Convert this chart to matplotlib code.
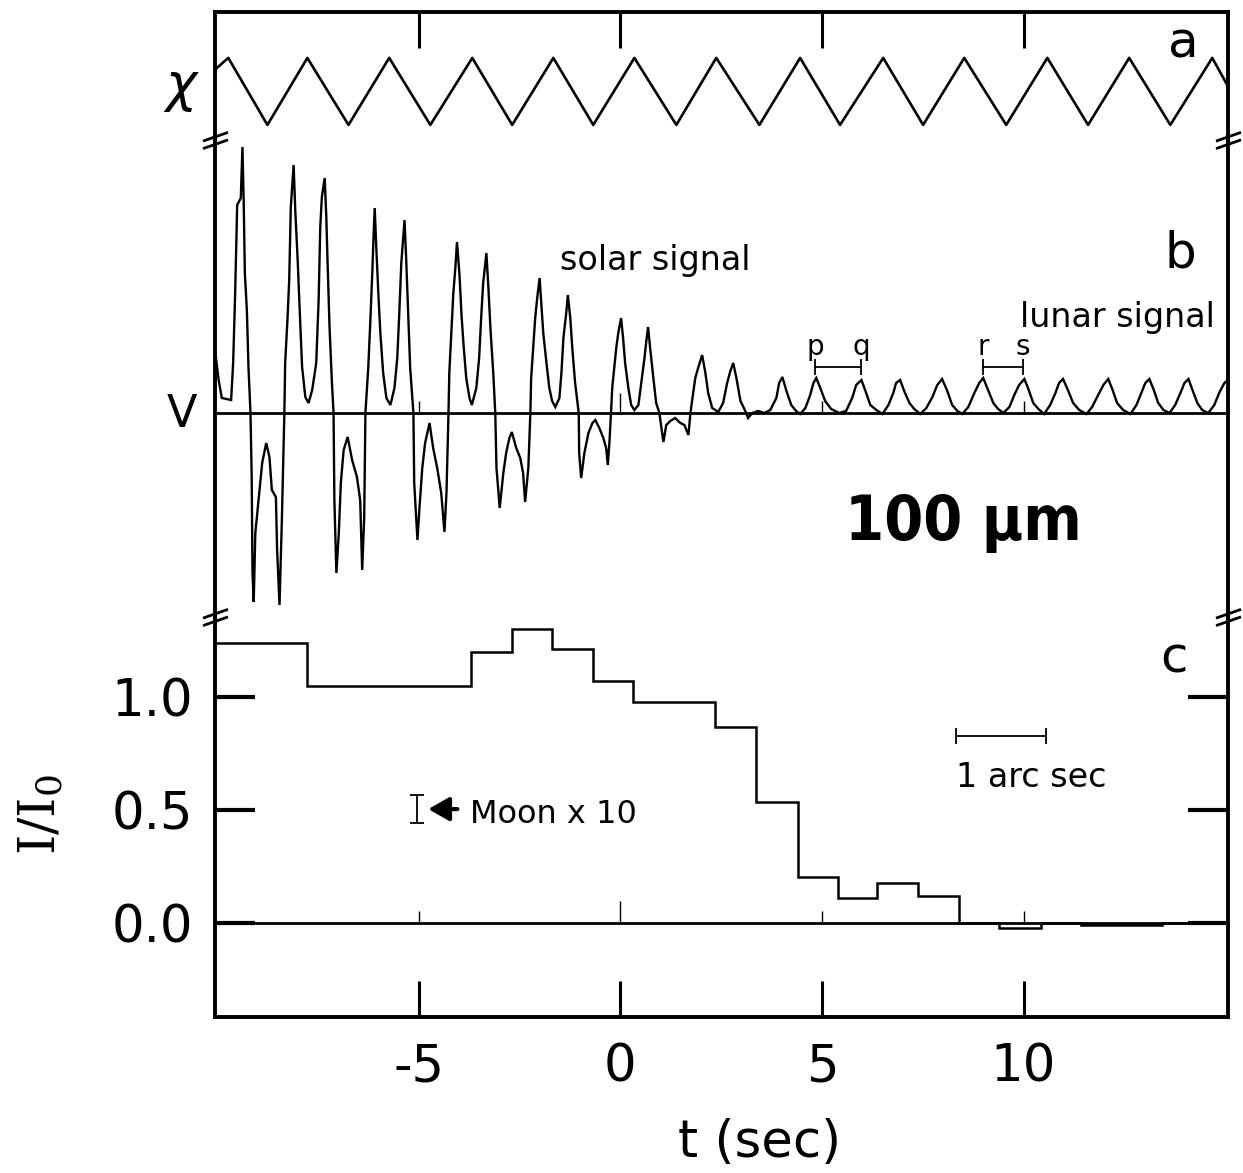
import matplotlib.pyplot as plt
from matplotlib.path import Path

# ---------------- data ----------------
t_ticks = [-5, 0, 5, 10]
t_labels = ['-5', '0', '5', '10']

# (a) chopper angle chi: triangle-wave vertices (t, chi)
chi_t = [-10.05, -9.72, -8.75, -7.76, -6.74, -5.73, -4.71, -3.67, -2.68, -1.66,
         -0.67, 0.35, 1.39, 2.38, 3.45, 4.46, 5.45, 6.52, 7.51, 8.53, 9.57,
         10.59, 11.60, 12.62, 13.64, 14.68, 15.07]
chi_v = [0.65, 1, -1, 1, -1, 1, -1, 1, -1, 1, -1, 1, -1, 1, -1, 1, -1, 1, -1,
         1, -1, 1, -1, 1, -1, 1, 0.15]

# (b) detector signal V (solar part, then lunar part)
solar_sig = [
    (-10.05, 0.63), (-9.96, 0.33), (-9.88, 0.15), (-9.65, 0.13), (-9.60, 0.50),
    (-9.55, 1.20), (-9.50, 2.08), (-9.41, 2.15), (-9.37, 2.66), (-9.34, 2.15),
    (-9.31, 1.40), (-9.26, 1.03), (-9.22, 0.46), (-9.17, 0.0), (-9.14, -0.64),
    (-9.12, -1.60), (-9.09, -1.89), (-9.05, -1.20), (-8.97, -0.87), (-8.88, -0.50),
    (-8.78, -0.30), (-8.70, -0.44), (-8.64, -0.77), (-8.54, -0.84), (-8.51, -1.37),
    (-8.45, -1.92), (-8.39, -1.04), (-8.33, 0.0),
    (-8.31, 0.50), (-8.25, 0.96), (-8.21, 1.33), (-8.17, 2.06), (-8.10, 2.48),
    (-8.06, 2.03), (-8.00, 1.53), (-7.95, 1.03), (-7.89, 0.46), (-7.81, 0.16),
    (-7.73, 0.10), (-7.64, 0.23), (-7.54, 0.50), (-7.48, 1.13), (-7.44, 1.86),
    (-7.40, 2.16), (-7.33, 2.35), (-7.29, 1.96), (-7.26, 1.53), (-7.21, 0.86),
    (-7.15, 0.30), (-7.11, 0.0), (-7.09, -0.87), (-7.04, -1.60), (-6.98, -1.20),
    (-6.93, -0.70), (-6.86, -0.37), (-6.76, -0.24), (-6.65, -0.47), (-6.53, -0.64),
    (-6.45, -0.87), (-6.40, -1.57), (-6.35, -1.04), (-6.32, 0.0),
    (-6.25, 0.45), (-6.20, 0.90), (-6.15, 1.40), (-6.12, 1.75), (-6.09, 2.05),
    (-6.05, 1.65), (-6.00, 1.20), (-5.95, 0.80), (-5.88, 0.40), (-5.80, 0.15),
    (-5.70, 0.08), (-5.60, 0.25), (-5.53, 0.55), (-5.48, 1.00), (-5.43, 1.50),
    (-5.35, 1.93), (-5.31, 1.55), (-5.26, 1.00), (-5.21, 0.45), (-5.13, 0.0),
    (-5.11, -0.70), (-5.03, -1.27), (-4.98, -0.95), (-4.91, -0.55), (-4.84, -0.30),
    (-4.73, -0.10), (-4.64, -0.35), (-4.54, -0.55), (-4.44, -0.80), (-4.36, -1.19),
    (-4.31, -0.80), (-4.26, 0.0),
    (-4.24, 0.40), (-4.19, 0.80), (-4.14, 1.20), (-4.09, 1.45), (-4.05, 1.71),
    (-3.99, 1.40), (-3.94, 1.00), (-3.89, 0.70), (-3.82, 0.35), (-3.74, 0.15),
    (-3.68, 0.08), (-3.57, 0.25), (-3.50, 0.55), (-3.45, 0.95), (-3.40, 1.30),
    (-3.32, 1.60), (-3.27, 1.25), (-3.22, 0.85), (-3.15, 0.40), (-3.10, 0.0),
    (-3.07, -0.55), (-2.99, -0.95), (-2.90, -0.60), (-2.83, -0.40), (-2.75, -0.25),
    (-2.69, -0.19), (-2.58, -0.35), (-2.48, -0.45), (-2.41, -0.60), (-2.36, -0.89),
    (-2.28, -0.55), (-2.23, 0.0),
    (-2.21, 0.35), (-2.16, 0.65), (-2.11, 0.95), (-2.06, 1.15), (-2.00, 1.35),
    (-1.96, 1.10), (-1.91, 0.80), (-1.83, 0.50), (-1.76, 0.25), (-1.69, 0.12),
    (-1.61, 0.06), (-1.51, 0.15), (-1.46, 0.40), (-1.41, 0.75), (-1.34, 1.00),
    (-1.30, 1.18), (-1.24, 0.95), (-1.19, 0.65), (-1.12, 0.30), (-1.03, 0.0),
    (-1.02, -0.40), (-0.97, -0.65), (-0.89, -0.40), (-0.79, -0.20), (-0.69, -0.10),
    (-0.62, -0.07), (-0.52, -0.15), (-0.42, -0.25), (-0.35, -0.35), (-0.31, -0.52),
    (-0.27, -0.30), (-0.23, 0.0),
    (-0.20, 0.25), (-0.15, 0.45), (-0.10, 0.65), (-0.05, 0.80), (0.02, 0.95),
    (0.07, 0.75), (0.12, 0.50), (0.20, 0.25), (0.27, 0.08), (0.35, 0.03),
    (0.45, 0.08), (0.52, 0.30), (0.60, 0.55), (0.64, 0.70), (0.69, 0.86),
    (0.74, 0.65), (0.82, 0.35), (0.89, 0.10), (0.97, 0.0), (1.02, -0.15),
    (1.07, -0.29), (1.14, -0.12), (1.24, -0.08), (1.36, -0.05), (1.49, -0.10),
    (1.59, -0.12), (1.69, -0.22), (1.74, 0.0),
    (1.79, 0.15), (1.86, 0.35), (1.93, 0.45), (2.03, 0.58), (2.11, 0.40),
    (2.18, 0.20), (2.28, 0.05), (2.43, 0.01), (2.55, 0.10), (2.65, 0.30),
    (2.73, 0.42), (2.80, 0.50), (2.88, 0.35), (2.98, 0.12), (3.10, 0.02),
    (3.17, -0.05), (3.27, 0.0), (3.42, 0.02), (3.57, 0.0),
]
lunar_sig = [
    (3.72, 0.03), (3.87, 0.15), (3.94, 0.30), (4.02, 0.36), (4.12, 0.22),
    (4.24, 0.08), (4.36, 0.02), (4.46, -0.01), (4.59, 0.05), (4.71, 0.18),
    (4.79, 0.30), (4.86, 0.35), (4.96, 0.25), (5.08, 0.12), (5.23, 0.04),
    (5.43, 0.0), (5.60, 0.02), (5.75, 0.15), (5.85, 0.28), (5.98, 0.33),
    (6.08, 0.22), (6.20, 0.08), (6.35, 0.03), (6.50, -0.01), (6.65, 0.08),
    (6.77, 0.20), (6.84, 0.30), (6.94, 0.33), (7.04, 0.22), (7.17, 0.10),
    (7.29, 0.04), (7.44, -0.01), (7.59, 0.05), (7.74, 0.16), (7.86, 0.28),
    (7.98, 0.34), (8.11, 0.22), (8.23, 0.08), (8.36, 0.02), (8.48, -0.01),
    (8.63, 0.06), (8.78, 0.20), (8.90, 0.30), (9.00, 0.35), (9.13, 0.22),
    (9.25, 0.10), (9.37, 0.04), (9.50, 0.0), (9.65, 0.06), (9.77, 0.18),
    (9.89, 0.28), (10.02, 0.34), (10.12, 0.24), (10.24, 0.10), (10.37, 0.04),
    (10.51, -0.01), (10.66, 0.08), (10.79, 0.20), (10.88, 0.30), (10.98, 0.34),
    (11.11, 0.22), (11.23, 0.10), (11.38, 0.03), (11.56, -0.01), (11.70, 0.06),
    (11.85, 0.18), (11.98, 0.28), (12.10, 0.34), (12.20, 0.24), (12.32, 0.10),
    (12.47, 0.03), (12.65, -0.01), (12.80, 0.08), (12.92, 0.20), (13.02, 0.30),
    (13.12, 0.34), (13.22, 0.24), (13.34, 0.10), (13.47, 0.03), (13.62, 0.0),
    (13.76, 0.08), (13.89, 0.20), (13.99, 0.30), (14.09, 0.34), (14.18, 0.24),
    (14.31, 0.10), (14.43, 0.03), (14.58, 0.0), (14.73, 0.08), (14.85, 0.20),
    (14.98, 0.30), (15.07, 0.33),
]
# marked lunar peaks p, q, r, s
peak_names = ['p', 'q', 'r', 's']
peak_t = [4.84, 5.98, 9.00, 9.99]

# (c) I/I0 histogram
c_edges = [-10.05, -7.76, -3.69, -2.68, -1.69, -0.67, 0.32, 2.36, 3.37, 4.41,
           5.41, 6.37, 7.39, 8.41, 9.40, 10.44, 11.43, 13.44, 15.07]
c_vals = [1.239, 1.049, 1.199, 1.301, 1.212, 1.071, 0.978, 0.867, 0.535, 0.204,
          0.111, 0.177, 0.120, 0.0, -0.02, 0.0, -0.01, 0.0]
moon_t, moon_v, moon_err = -5.03, 0.504, 0.062
arcsec_t = [8.33, 10.56]
arcsec_v = 0.827

# ---------------- figure ----------------
plt.rcParams['font.family'] = ['DejaVu Sans']
plt.rcParams['axes.unicode_minus'] = False

W, H = 1243, 1173
fig = plt.figure(figsize=(W / 100, H / 100), dpi=100)

def box(top, bottom, left=215, right=1228):
    return [left / W, 1 - bottom / H, (right - left) / W, (bottom - top) / H]

ax_a = fig.add_axes(box(12, 140))
ax_b = fig.add_axes(box(140, 617))
ax_c = fig.add_axes(box(617, 1017))

xlim = (-10.05, 15.07)
for ax in (ax_a, ax_b, ax_c):
    ax.set_xlim(*xlim)
    ax.patch.set_alpha(0)
    for s in ax.spines.values():
        s.set_linewidth(2.8)
ax_a.spines['bottom'].set_visible(False)
ax_b.spines['top'].set_visible(False)
ax_b.spines['bottom'].set_visible(False)
ax_c.spines['top'].set_visible(False)

# panel a
ax_a.plot(chi_t, chi_v, color='k', lw=1.9)
ax_a.set_ylim(-1.45, 2.37)
ax_a.set_yticks([])
ax_a.xaxis.set_ticks_position('top')
ax_a.set_xticks(t_ticks)
ax_a.tick_params(axis='x', direction='in', length=26, width=2.2, labeltop=False, labelbottom=False)
ax_a.text(13.96, 1.0, 'a', fontsize=36, ha='center', va='baseline')

# panel b
bt = [p[0] for p in solar_sig] + [p[0] for p in lunar_sig]
bv = [p[1] for p in solar_sig] + [p[1] for p in lunar_sig]
ax_b.plot(bt, bv, color='k', lw=1.7, solid_joinstyle='miter')
ax_b.axhline(0, color='k', lw=2.0)
ax_b.vlines([-5, 5, 10], 0, 0.12, color='k', lw=1.0)
ax_b.vlines([0], 0, 0.20, color='k', lw=1.0)
ax_b.set_ylim(-2.04, 2.73)
ax_b.set_xticks([])
ax_b.set_yticks([])
for name, tp in zip(peak_names, peak_t):
    ax_b.text(tp, 0.58, name, fontsize=20, ha='center', va='baseline')
for t0, t1 in [(peak_t[0], peak_t[1]), (peak_t[2], peak_t[3])]:
    ax_b.plot([t0, t1], [0.46, 0.46], color='k', lw=1.3)
    ax_b.vlines([t0, t1], 0.38, 0.54, color='k', lw=1.3)
ax_b.text(-1.49, 1.43, 'solar signal', fontsize=24, ha='left', va='baseline')
ax_b.text(9.92, 0.86, 'lunar signal', fontsize=24, ha='left', va='baseline')
ax_b.text(13.89, 1.45, 'b', fontsize=36, ha='center', va='baseline')
ax_b.text(5.58, -1.27, '100 μm', fontsize=45, fontweight='bold', fontstretch='condensed',
          ha='left', va='baseline')

# panel c
ax_c.stairs(c_vals, c_edges, baseline=None, color='k', lw=1.8)
ax_c.axhline(0, color='k', lw=2.0)
ax_c.vlines([-5, 5, 10], 0, 0.053, color='k', lw=1.0)
ax_c.vlines([0], 0, 0.097, color='k', lw=1.0)
ax_c.set_ylim(-0.416, 1.354)
ax_c.set_xticks(t_ticks)
ax_c.set_xticklabels(t_labels)
ax_c.set_yticks([0.0, 0.5, 1.0])
ax_c.set_yticklabels(['0.0', '0.5', '1.0'])
ax_c.tick_params(axis='x', direction='in', length=26, width=2.2, labelsize=37, pad=18)
ax_c.tick_params(axis='y', direction='in', length=29, width=3.0, labelsize=37, pad=16,
                 left=True, right=True)
ax_c.errorbar([moon_t], [moon_v], yerr=[[moon_err], [moon_err]], fmt='none',
              ecolor='k', elinewidth=1.3, capsize=5, capthick=1.3)
ax_c.annotate('', xy=(-4.76, moon_v), xytext=(-4.04, moon_v),
              arrowprops=dict(arrowstyle='-|>,head_length=0.7,head_width=0.4',
                              lw=3, color='k', shrinkA=0, shrinkB=0, mutation_scale=18))
ax_c.text(-3.72, 0.442, 'Moon x 10', fontsize=23, ha='left', va='baseline')
ax_c.plot(arcsec_t, [arcsec_v, arcsec_v], color='k', lw=1.3)
ax_c.vlines(arcsec_t, arcsec_v - 0.035, arcsec_v + 0.035, color='k', lw=1.3)
ax_c.text(arcsec_t[0], 0.60, '1 arc sec', fontsize=24, ha='left', va='baseline')
ax_c.text(13.74, 1.11, 'c', fontsize=36, ha='center', va='baseline')

# axis breaks "//"
brk = Path([(-1, -0.65), (1, 0.05), (-1, -0.05), (1, 0.65)],
           [Path.MOVETO, Path.LINETO, Path.MOVETO, Path.LINETO])
for xx, yy in [(0, 1), (1, 1), (0, 0), (1, 0)]:
    ax_b.plot([xx], [yy], transform=ax_b.transAxes, marker=brk, ms=18, mew=2.0,
              color='k', linestyle='none', clip_on=False)

# labels outside axes
fig.text(182 / W, 1 - 88 / H, r'$\chi$', fontsize=38, ha='center', va='center')
fig.text(182 / W, 1 - 414 / H, 'V', fontsize=32, ha='center', va='center')
fig.text(42 / W, 1 - 815 / H, r'$\mathrm{I/I_0}$', fontsize=37, rotation=90,
         ha='center', va='center', math_fontfamily='dejavuserif')
fig.text(760 / W, 1 - 1143 / H, 't (sec)', fontsize=37, ha='center', va='center')

fig.savefig('out.png', dpi=100)
